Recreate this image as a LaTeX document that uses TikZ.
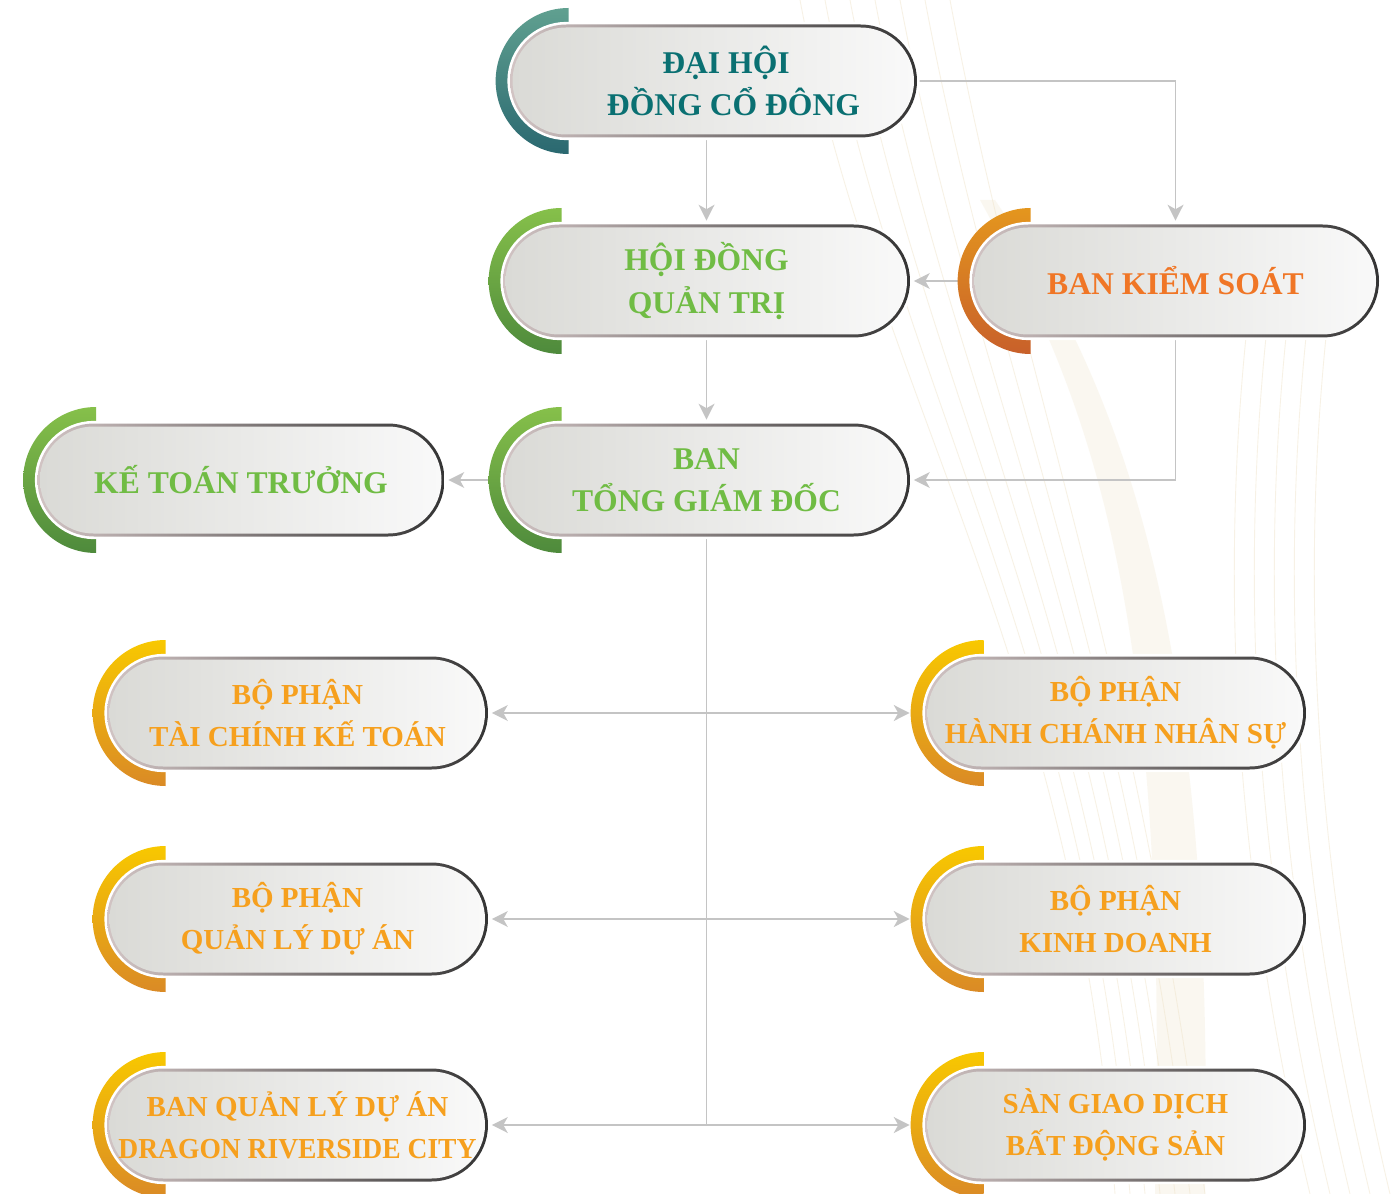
\documentclass[tikz,border=0pt]{standalone}
\usepackage{fontspec}
\setmainfont{Liberation Serif}
\usetikzlibrary{shapes.misc,arrows.meta,calc,backgrounds}

\definecolor{tealtext}{RGB}{10,112,114}
\definecolor{greentext}{RGB}{112,188,68}
\definecolor{orangetext}{RGB}{240,118,38}
\definecolor{yellowtext}{RGB}{246,160,30}
\definecolor{conngray}{RGB}{196,196,196}
\definecolor{pillL}{RGB}{218,218,214}
\definecolor{pillR}{RGB}{249,249,249}
\definecolor{rimL}{RGB}{210,196,196}
\definecolor{rimR}{RGB}{52,52,52}
\definecolor{deco}{RGB}{238,226,198}
\definecolor{tealA}{RGB}{96,160,144}
\definecolor{tealB}{RGB}{42,104,112}
\definecolor{greenA}{RGB}{134,192,74}
\definecolor{greenB}{RGB}{78,138,60}
\definecolor{orangeA}{RGB}{228,150,30}
\definecolor{orangeB}{RGB}{200,96,42}
\definecolor{yellowA}{RGB}{248,200,0}
\definecolor{yellowB}{RGB}{218,138,38}

\tikzset{
  pill/.style={rounded rectangle, minimum height=2.26cm, inner sep=0pt, align=center,
    font=\fontsize{18}{24}\selectfont\bfseries,
    preaction={draw=white, line width=3pt},
    path picture={
      \shade[left color=rimL, right color=rimR]
        (path picture bounding box.south west) rectangle (path picture bounding box.north east);
      \shade[left color=pillL, right color=pillR, rounded corners=1.07cm]
        ([shift={(0.05,0.06)}]path picture bounding box.south west) rectangle
        ([shift={(-0.06,-0.06)}]path picture bounding box.north east);
    }},
  board/.style={pill, minimum width=8.14cm},
  dept/.style={pill, minimum width=7.62cm, text=yellowtext, font=\fontsize{16.5}{24}\selectfont\bfseries},
  conn/.style={draw=conngray, line width=1.1pt, shorten >=2pt, ->},
  >={Stealth[length=9pt,width=9pt,inset=2.5pt]},
}

\begin{document}
\begin{tikzpicture}

    \useasboundingbox (0,0) rectangle (27.94,-23.88);

    % Board level
    \node[board, text=tealtext] (dhdcd) at (14.27,-1.62) {\hspace*{0.5cm}ĐẠI HỘI\\\hspace*{0.8cm}ĐỒNG CỔ ĐÔNG};
    \node[board, text=greentext] (hdqt) at (14.13,-5.62) {HỘI ĐỒNG\\QUẢN TRỊ};
    \node[board, text=orangetext] (bks) at (23.51,-5.62) {BAN KIỂM SOÁT};
    \node[board, text=greentext] (btgd) at (14.13,-9.60) {BAN\\TỔNG GIÁM ĐỐC};
    \node[board, text=greentext] (ktt) at (4.82,-9.60) {KẾ TOÁN TRƯỞNG};

    % Departments
    \node[dept] (tckt) at (5.95,-14.26) {BỘ PHẬN\\TÀI CHÍNH KẾ TOÁN};
    \node[dept] (hcns) at (22.31,-14.26) {BỘ PHẬN\\\makebox[4.5cm]{HÀNH CHÁNH NHÂN SỰ}};
    \node[dept] (qlda) at (5.95,-18.38) {BỘ PHẬN\\QUẢN LÝ DỰ ÁN};
    \node[dept] (kd) at (22.31,-18.38) {BỘ PHẬN\\KINH DOANH};
    \node[dept] (bqlda) at (5.95,-22.50) {\makebox[4.5cm]{BAN QUẢN LÝ DỰ ÁN}\\\makebox[4.5cm]{\scalebox{0.95}[1]{DRAGON RIVERSIDE CITY}}};
    \node[dept] (sgd) at (22.31,-22.50) {SÀN GIAO DỊCH\\BẤT ĐỘNG SẢN};

    \begin{scope}[on background layer]
    \fill[white] (0,0) rectangle (27.94,-23.88);

    % Background swirls
    \fill[deco, opacity=0.25] (19.6,-4) .. controls (21.8,-8) and (23.4,-12) .. (23.1,-23.88)
      -- (24.1,-23.88) .. controls (24.3,-13) and (22.6,-8) .. (19.9,-4) -- cycle;
    \foreach \d in {0,0.5,...,3}
      \draw[deco, line width=0.5pt, opacity=0.45] (16+\d,0) .. controls (17.5+\d,-8) and (21.5+0.4*\d,-13) .. (22.3+0.6*\d,-23.88);
    \foreach \d in {0,0.4,...,1.6}
      \draw[deco, line width=0.5pt, opacity=0.45] (25+\d,-6) .. controls (24.3+\d,-12) and (24.8+\d,-18) .. (26.2+\d,-23.88);

    % Connectors
    \draw[conn] (hdqt.north |- dhdcd.south) -- (hdqt.north);
    \draw[conn] (dhdcd.east) -| (bks.north);
    \draw[conn] (bks.west) -- (hdqt.east);
    \draw[conn] (hdqt.south) -- (btgd.north);
    \draw[conn] (bks.south) |- (btgd.east);
    \draw[conn] (btgd.west) -- (ktt.east);
    \draw[draw=conngray, line width=1.1pt] (btgd.south) -- (btgd.south |- bqlda.east);
    \foreach \l/\r in {tckt/hcns, qlda/kd, bqlda/sgd}
      \draw[conn, <->, shorten <=2pt, shorten >=0.3cm] (\l.east) -- (\r.west);

    % Coloured arcs
    \foreach \n/\ca/\cb in {dhdcd/tealA/tealB, hdqt/greenA/greenB, bks/orangeA/orangeB,
        btgd/greenA/greenB, ktt/greenA/greenB, tckt/yellowA/yellowB, hcns/yellowA/yellowB,
        qlda/yellowA/yellowB, kd/yellowA/yellowB, bqlda/yellowA/yellowB, sgd/yellowA/yellowB}
      \shade[top color=\ca, bottom color=\cb] ($(\n.west)+(1.18,1.46)$) arc[start angle=90, end angle=270, radius=1.46] -- cycle;
    \end{scope}

\end{tikzpicture}
\end{document}
